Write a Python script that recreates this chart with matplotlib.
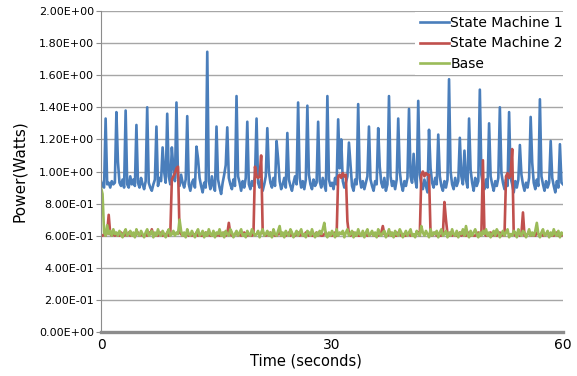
import numpy as np
import matplotlib
matplotlib.use('Agg')
import matplotlib.pyplot as plt

# sampling every 0.2 s over 60 s
t = np.linspace(0, 60, 301)

state_machine_1 = [
    0.94, 0.91, 0.90, 1.33, 0.92, 0.93, 0.90, 0.94, 0.92, 0.93,
    1.37, 1.06, 0.93, 0.91, 0.95, 0.90, 1.38, 0.92, 0.90, 0.97,
    0.92, 0.95, 0.91, 1.29, 0.93, 0.90, 0.96, 0.92, 0.89, 0.94,
    1.40, 0.93, 0.90, 0.88, 0.92, 0.95, 1.28, 0.91, 0.96, 0.94,
    1.15, 1.00, 0.93, 1.36, 0.97, 0.92, 1.15, 1.02, 0.94, 1.43,
    0.96, 0.91, 0.98, 0.93, 0.90, 0.95, 1.345, 0.92, 0.88, 0.93,
    0.95, 0.90, 1.155, 1.08, 0.96, 0.91, 0.87, 0.93, 0.90, 1.746,
    0.94, 0.89, 0.97, 0.91, 0.88, 1.28, 0.95, 0.90, 0.86, 0.93,
    0.98, 1.04, 1.275, 0.96, 0.92, 0.89, 0.95, 0.91, 1.47, 0.97,
    0.93, 0.88, 0.94, 0.90, 0.96, 1.31, 0.92, 0.89, 0.94, 0.91,
    0.97, 1.33, 0.93, 0.90, 0.95, 0.88, 0.92, 0.97, 1.27, 1.00,
    0.93, 0.90, 0.96, 0.91, 1.19, 1.08, 0.94, 0.89, 0.92, 0.96,
    0.90, 1.24, 0.95, 0.91, 0.88, 0.93, 0.97, 0.92, 1.43, 0.96,
    0.90, 0.94, 0.89, 0.95, 1.41, 0.98, 0.92, 0.89, 0.95, 0.91,
    0.93, 1.31, 0.94, 0.90, 0.96, 0.92, 0.88, 1.47, 0.95, 0.91,
    0.93, 0.89, 0.96, 0.92, 1.325, 1.02, 1.20, 0.94, 0.90, 0.93,
    0.97, 1.18, 1.04, 0.91, 0.88, 0.95, 0.92, 1.42, 0.96, 0.90,
    0.94, 0.89, 0.93, 0.97, 1.28, 0.95, 0.91, 0.88, 0.94, 0.92,
    1.27, 1.03, 0.93, 0.90, 0.96, 0.88, 0.92, 1.47, 0.97, 0.91,
    0.94, 0.89, 0.95, 1.33, 1.00, 0.92, 0.88, 0.94, 0.91, 0.96,
    1.39, 0.97, 0.93, 1.11, 0.95, 0.90, 1.44, 0.98, 0.92, 0.89,
    0.95, 0.91, 0.87, 1.26, 1.02, 0.93, 0.90, 0.96, 0.92, 1.23,
    0.97, 0.91, 0.88, 0.94, 0.90, 0.95, 1.575, 1.00, 0.92, 0.89,
    0.96, 0.91, 0.94, 1.21, 0.97, 0.92, 1.13, 0.95, 0.90, 1.33,
    1.01, 0.93, 0.88, 0.96, 0.91, 0.94, 1.51, 0.98, 0.92, 0.89,
    0.95, 0.90, 1.30, 0.97, 0.92, 0.88, 0.94, 0.91, 0.96, 1.40,
    0.99, 0.93, 0.89, 0.95, 0.91, 1.37, 0.96, 0.92, 0.87, 0.94,
    0.90, 0.95, 1.165, 0.98, 0.92, 0.88, 0.93, 0.90, 0.96, 1.34,
    1.055, 0.93, 0.89, 0.95, 0.91, 1.45, 0.97, 0.92, 0.88, 0.94,
    0.90, 0.93, 1.19, 0.96, 0.91, 0.87, 0.94, 0.90, 1.17, 0.93,
    0.92,
]

state_machine_2 = [
    0.60, 0.60, 0.61, 0.60, 0.62, 0.73, 0.61, 0.60, 0.61, 0.60,
    0.61, 0.60, 0.60, 0.62, 0.61, 0.60, 0.61, 0.60, 0.62, 0.60,
    0.61, 0.60, 0.60, 0.61, 0.62, 0.60, 0.61, 0.60, 0.60, 0.61,
    0.60, 0.62, 0.61, 0.64, 0.60, 0.61, 0.60, 0.60, 0.61, 0.62,
    0.60, 0.61, 0.60, 0.62, 0.60, 0.61, 0.95, 0.97, 0.99, 1.02,
    1.03, 0.62, 0.61, 0.60, 0.61, 0.60, 0.62, 0.60, 0.61, 0.60,
    0.61, 0.60, 0.62, 0.60, 0.61, 0.60, 0.60, 0.61, 0.62, 0.60,
    0.61, 0.60, 0.60, 0.62, 0.61, 0.60, 0.61, 0.60, 0.60, 0.61,
    0.62, 0.60, 0.61, 0.68, 0.61, 0.60, 0.60, 0.61, 0.62, 0.60,
    0.61, 0.60, 0.60, 0.62, 0.61, 0.60, 0.61, 0.60, 0.60, 0.61,
    1.03, 0.97, 0.96, 0.97, 1.10, 0.62, 0.61, 0.60, 0.61, 0.60,
    0.62, 0.60, 0.61, 0.60, 0.60, 0.61, 0.62, 0.60, 0.61, 0.60,
    0.60, 0.61, 0.62, 0.60, 0.61, 0.60, 0.60, 0.61, 0.62, 0.60,
    0.61, 0.60, 0.60, 0.62, 0.61, 0.60, 0.61, 0.60, 0.60, 0.61,
    0.62, 0.60, 0.61, 0.60, 0.60, 0.61, 0.62, 0.60, 0.61, 0.60,
    0.60, 0.61, 0.62, 0.60, 0.97, 0.98, 0.96, 0.99, 0.97, 0.98,
    0.69, 0.61, 0.60, 0.61, 0.62, 0.60, 0.61, 0.60, 0.60, 0.61,
    0.62, 0.60, 0.61, 0.60, 0.60, 0.61, 0.62, 0.60, 0.61, 0.60,
    0.60, 0.61, 0.62, 0.66, 0.61, 0.60, 0.60, 0.61, 0.62, 0.60,
    0.61, 0.60, 0.60, 0.62, 0.61, 0.60, 0.61, 0.60, 0.60, 0.61,
    0.62, 0.60, 0.61, 0.60, 0.60, 0.61, 0.62, 0.60, 0.98, 1.00,
    0.97, 0.99, 0.98, 0.98, 0.61, 0.60, 0.61, 0.62, 0.60, 0.61,
    0.60, 0.60, 0.61, 0.81, 0.70, 0.61, 0.60, 0.62, 0.60, 0.61,
    0.60, 0.60, 0.61, 0.62, 0.60, 0.61, 0.60, 0.60, 0.61, 0.62,
    0.60, 0.61, 0.60, 0.60, 0.61, 0.62, 0.60, 0.61, 1.07, 0.61,
    0.60, 0.60, 0.61, 0.62, 0.60, 0.61, 0.60, 0.60, 0.61, 0.62,
    0.60, 0.61, 0.60, 0.97, 0.99, 0.96, 0.98, 1.14, 0.61, 0.60,
    0.61, 0.62, 0.60, 0.61, 0.745, 0.60, 0.60, 0.61, 0.62, 0.60,
    0.61, 0.60, 0.60, 0.62, 0.61, 0.60, 0.61, 0.60, 0.60, 0.61,
    0.62, 0.60, 0.61, 0.60, 0.60, 0.61, 0.62, 0.60, 0.61, 0.60,
    0.61,
]

base = [
    0.90, 0.86, 0.62, 0.60, 0.665, 0.61, 0.63, 0.60, 0.64, 0.61,
    0.62, 0.60, 0.63, 0.61, 0.59, 0.62, 0.64, 0.60, 0.61, 0.63,
    0.60, 0.62, 0.59, 0.64, 0.61, 0.60, 0.63, 0.61, 0.59, 0.62,
    0.64, 0.60, 0.61, 0.63, 0.59, 0.62, 0.60, 0.64, 0.61, 0.60,
    0.63, 0.61, 0.59, 0.62, 0.64, 0.60, 0.61, 0.63, 0.60, 0.62,
    0.61, 0.70, 0.63, 0.60, 0.62, 0.59, 0.64, 0.61, 0.60, 0.63,
    0.61, 0.59, 0.62, 0.64, 0.60, 0.61, 0.63, 0.59, 0.62, 0.60,
    0.64, 0.61, 0.60, 0.63, 0.59, 0.62, 0.61, 0.64, 0.60, 0.62,
    0.59, 0.63, 0.61, 0.60, 0.64, 0.62, 0.59, 0.61, 0.63, 0.60,
    0.62, 0.64, 0.60, 0.61, 0.59, 0.63, 0.61, 0.60, 0.64, 0.62,
    0.60, 0.61, 0.63, 0.59, 0.62, 0.64, 0.60, 0.61, 0.63, 0.60,
    0.62, 0.59, 0.64, 0.61, 0.60, 0.63, 0.66, 0.60, 0.62, 0.59,
    0.63, 0.61, 0.60, 0.64, 0.62, 0.59, 0.61, 0.63, 0.60, 0.62,
    0.64, 0.60, 0.61, 0.59, 0.63, 0.62, 0.60, 0.64, 0.61, 0.59,
    0.62, 0.60, 0.63, 0.61, 0.64, 0.68, 0.61, 0.59, 0.62, 0.60,
    0.63, 0.61, 0.59, 0.64, 0.60, 0.62, 0.61, 0.63, 0.59, 0.62,
    0.64, 0.60, 0.61, 0.63, 0.59, 0.62, 0.60, 0.64, 0.61, 0.60,
    0.63, 0.59, 0.62, 0.64, 0.60, 0.61, 0.63, 0.60, 0.62, 0.59,
    0.64, 0.61, 0.60, 0.62, 0.63, 0.59, 0.61, 0.64, 0.60, 0.62,
    0.59, 0.63, 0.61, 0.60, 0.64, 0.62, 0.59, 0.61, 0.63, 0.60,
    0.62, 0.64, 0.60, 0.61, 0.59, 0.63, 0.61, 0.60, 0.66, 0.62,
    0.60, 0.63, 0.61, 0.59, 0.64, 0.60, 0.62, 0.61, 0.63, 0.59,
    0.62, 0.64, 0.60, 0.61, 0.63, 0.59, 0.62, 0.60, 0.64, 0.61,
    0.60, 0.63, 0.59, 0.62, 0.61, 0.64, 0.60, 0.66, 0.61, 0.59,
    0.63, 0.60, 0.62, 0.64, 0.61, 0.59, 0.62, 0.60, 0.63, 0.61,
    0.64, 0.60, 0.62, 0.59, 0.61, 0.63, 0.60, 0.64, 0.62, 0.59,
    0.61, 0.63, 0.60, 0.62, 0.64, 0.59, 0.61, 0.60, 0.63, 0.62,
    0.59, 0.64, 0.61, 0.60, 0.63, 0.62, 0.59, 0.61, 0.64, 0.60,
    0.62, 0.60, 0.63, 0.68, 0.61, 0.59, 0.62, 0.64, 0.60, 0.61,
    0.63, 0.59, 0.62, 0.60, 0.64, 0.61, 0.60, 0.63, 0.59, 0.62,
    0.61,
]

series_names = ['State Machine 1', 'State Machine 2', 'Base']
colors = ['#4a7ebb', '#c0504d', '#9bbb59']
y_ticks = [0.0, 0.2, 0.4, 0.6, 0.8, 1.0, 1.2, 1.4, 1.6, 1.8, 2.0]
x_ticks = [0, 30, 60]

W, H = 577, 376
fig = plt.figure(figsize=(W / 100, H / 100), dpi=100)
ax = fig.add_axes([101 / W, 1 - 332 / H, 462 / W, 321 / H])

for y, name, c in zip([state_machine_1, state_machine_2, base], series_names, colors):
    ax.plot(t, y, color=c, lw=1.9, label=name, solid_joinstyle='round')

ax.set_xlim(0, 60)
ax.set_ylim(0, 2.0)
ax.set_yticks(y_ticks)
ax.set_yticklabels(['{:.2E}'.format(v) for v in y_ticks])
ax.set_xticks(x_ticks)
ax.grid(axis='y', color='#a6a6a6', lw=1.0)
ax.set_axisbelow(True)

for s in ['top', 'right']:
    ax.spines[s].set_visible(False)
ax.spines['left'].set_color('#8c8c8c')
ax.spines['bottom'].set_color('#8c8c8c')
ax.spines['bottom'].set_linewidth(2.4)

ax.tick_params(axis='y', labelsize=8, length=3.5, color='#8c8c8c', pad=1.5)
ax.tick_params(axis='x', labelsize=10, length=0, pad=4)

ax.set_ylabel('Power(Watts)', fontsize=11)
ax.yaxis.set_label_coords(-74 / 462, 0.5)
ax.set_xlabel('Time (seconds)', fontsize=10.5)
ax.xaxis.set_label_coords((306 - 101) / 462, -22 / 321)

leg = ax.legend(loc='upper right', bbox_to_anchor=(567 / W, 1 - 12 / H),
                bbox_transform=fig.transFigure, fontsize=10, frameon=True,
                fancybox=False, edgecolor='none', facecolor='white', framealpha=1,
                handlelength=2.1, handletextpad=0.1, labelspacing=0.45,
                borderpad=0.3, borderaxespad=0)
for line in leg.get_lines():
    line.set_linewidth(1.9)

fig.savefig('out.png', dpi=100)
